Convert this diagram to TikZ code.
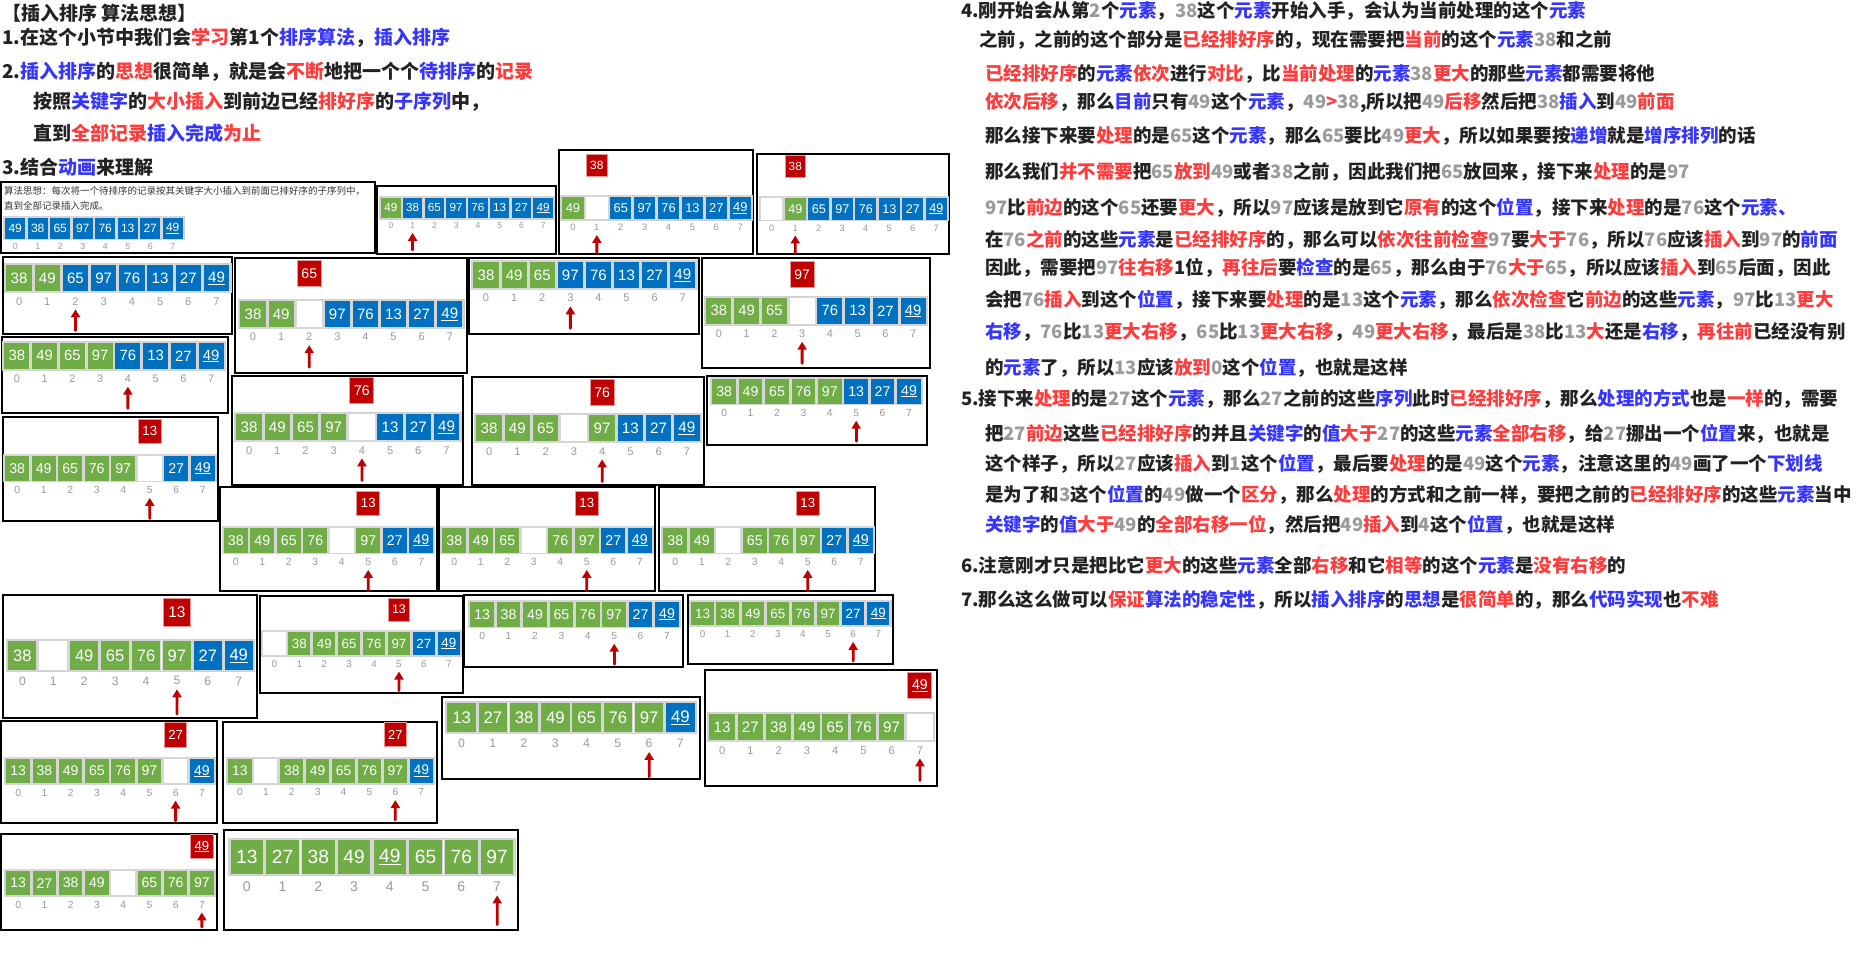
\documentclass[tikz,border=0pt]{standalone}
\usepackage{fontspec}
\usetikzlibrary{arrows.meta}
\newfontfamily\cjk{Noto Sans CJK SC}
\newfontfamily\numfont{Liberation Sans}
\definecolor{cg}{HTML}{70AD47}
\definecolor{cb}{HTML}{0070C0}
\definecolor{cr}{HTML}{C00000}
\definecolor{ce}{HTML}{FFFFFF}
\definecolor{tred}{HTML}{FF3B3B}
\definecolor{tblue}{HTML}{3535FF}
\definecolor{tgray}{HTML}{9A9A9A}
\definecolor{tblack}{HTML}{222222}
\newcommand{\hr}[1]{\textcolor{tred}{#1}}
\newcommand{\hb}[1]{\textcolor{tblue}{#1}}
\newcommand{\hg}[1]{\textcolor{tgray}{#1}}
\tikzset{
  panel/.style={draw=black,line width=1.3pt},
  cell/.style={fill=#1,draw=black!16,line width=1.4pt,minimum width=26.6pt,minimum height=27.6pt,
    inner sep=0,text=white,font=\numfont\fontsize{15}{15}\selectfont},
  idx/.style={text=black!40,inner sep=0,font=\numfont\fontsize{11}{11}\selectfont},
  redbox/.style={fill=cr,draw=cr!40,line width=1pt,minimum width=24pt,minimum height=26pt,
    inner sep=0,text=white,font=\numfont\fontsize{14}{14}\selectfont},
  uparr/.style={draw=cr,line width=2.8pt,-{Triangle[width=9pt,length=8pt]},shorten >=4pt},
  hd/.style={anchor=west,inner sep=0,text=tblack,font=\cjk\bfseries\fontsize{19}{19}\selectfont},
  rt/.style={anchor=west,inner sep=0,text=tblack,font=\cjk\bfseries\fontsize{18.5}{18.5}\selectfont},
  note/.style={anchor=west,inner sep=0,text=black!80,font=\cjk\fontsize{9.5}{9.5}\selectfont}
}
% one snapshot of the array: name, x, y, pitch, cells, arrow index, red value, red y, arrow tail
\newcommand{\snap}[9]{%
  \begin{scope}[shift={(#2,#3)},scale=#4/28,transform shape]
    \draw[black!18,line width=1pt] (-0.5,-0.5) rectangle (224.5,28.5);
    \foreach \ck/\cv [count=\i from 0] in {#5}
      {\node[cell=\ck] (#1-\i) at (28*\i+14,14) {\cv};
       \node[idx] (#1-n\i) at (28*\i+14,37) {\i};}
    \ifnum#6>-1
      \coordinate (#1-t) at (28*#6+14,#9);
      \draw[uparr] (#1-t) -- (#1-n#6);
    \fi
    \def\snapred{#7}%
    \ifx\snapred\empty\else
      \node[redbox] (#1-r) at (28*#6+14,#8) {#7};
    \fi
  \end{scope}}

\begin{document}
\begin{tikzpicture}[x=1pt,y=-1pt,line cap=round]
\useasboundingbox (0,0) rectangle (1860,953);

% left heading
\node[hd] (h0) at (2,13) {【插入排序 算法思想】};
\node[hd] (h1) at (2,38) {1.在这个小节中我们会\hr{学习}第1个\hb{排序算法}，\hb{插入排序}};
\node[hd] (h2) at (2,72) {2.\hb{插入排序}的\hr{思想}很简单，就是会\hr{不断}地把一个个\hb{待排序}的\hr{记录}};
\node[hd] (h3) at (33,102) {按照\hb{关键字}的\hr{大小插入}到前边已经\hr{排好序}的\hb{子序列}中，};
\node[hd] (h4) at (33,133) {直到\hr{全部记录}\hb{插入完成}\hr{为止}};
\node[hd] (h5) at (2,167) {3.结合\hb{动画}来理解};

% snapshots
\draw[panel] (1,182) rectangle (375,253);
\node[note] (A-l1) at (4,191) {算法思想：每次将一个待排序的记录按其关键字大小插入到前面已排好序的子序列中，};
\node[note] (A-l2) at (4,206) {直到全部记录插入完成。};
\snap{A}{4}{217}{22.5}{cb/49,cb/38,cb/65,cb/97,cb/76,cb/13,cb/27,cb/\underline{49}}{-1}{}{0}{67}
\draw[panel] (377,186) rectangle (556,254);
\snap{B}{380}{197}{21.75}{cg/49,cb/38,cb/65,cb/97,cb/76,cb/13,cb/27,cb/\underline{49}}{1}{}{0}{68}
\draw[panel] (559,150) rectangle (753,254);
\snap{C}{561}{196}{23.9}{cg/49,ce/{},cb/65,cb/97,cb/76,cb/13,cb/27,cb/\underline{49}}{1}{38}{-36}{67}
\draw[panel] (757,154) rectangle (949,254);
\snap{D}{760}{197}{23.5}{ce/{},cg/49,cb/65,cb/97,cb/76,cb/13,cb/27,cb/\underline{49}}{1}{38}{-36}{67}

\draw[panel] (3,257) rectangle (232,334);
\snap{E}{5}{264}{28.2}{cg/38,cg/49,cb/65,cb/97,cb/76,cb/13,cb/27,cb/\underline{49}}{2}{}{0}{66}
\draw[panel] (235,258) rectangle (467,373);
\snap{F}{239}{300}{28.1}{cg/38,cg/49,ce/{},cb/97,cb/76,cb/13,cb/27,cb/\underline{49}}{2}{65}{-26}{67}
\draw[panel] (469,258) rectangle (699,334);
\snap{G}{472}{261}{28.1}{cg/38,cg/49,cg/65,cb/97,cb/76,cb/13,cb/27,cb/\underline{49}}{3}{}{0}{67}
\draw[panel] (702,258) rectangle (930,368);
\snap{H}{705}{297}{27.75}{cg/38,cg/49,cg/65,ce/{},cb/76,cb/13,cb/27,cb/\underline{49}}{3}{97}{-22.5}{67}

\draw[panel] (2,337) rectangle (228,413);
\snap{I}{3}{342}{27.75}{cg/38,cg/49,cg/65,cg/97,cb/76,cb/13,cb/27,cb/\underline{49}}{4}{}{0}{67}
\draw[panel] (232,376) rectangle (463,485);
\snap{J}{235}{413}{28.2}{cg/38,cg/49,cg/65,cg/97,ce/{},cb/13,cb/27,cb/\underline{49}}{4}{76}{-22}{67}
\draw[panel] (472,377) rectangle (704,485);
\snap{K}{475}{414}{28.25}{cg/38,cg/49,cg/65,ce/{},cg/97,cb/13,cb/27,cb/\underline{49}}{4}{76}{-21}{67}
\draw[panel] (707,376) rectangle (927,445);
\snap{L}{711}{378}{26.4}{cg/38,cg/49,cg/65,cg/76,cg/97,cb/13,cb/27,cb/\underline{49}}{5}{}{0}{67}
\draw[panel] (3,417) rectangle (218,521);
\snap{M}{4}{455}{26.5}{cg/38,cg/49,cg/65,cg/76,cg/97,ce/{},cb/27,cb/\underline{49}}{5}{13}{-25}{67}

\draw[panel] (220,487) rectangle (437,591);
\snap{N}{222.5}{527}{26.5}{cg/38,cg/49,cg/65,cg/76,ce/{},cg/97,cb/27,cb/\underline{49}}{5}{13}{-25}{67}
\draw[panel] (439,487) rectangle (655,591);
\snap{O}{441}{527}{26.5}{cg/38,cg/49,cg/65,ce/{},cg/76,cg/97,cb/27,cb/\underline{49}}{5}{13}{-25}{67}
\draw[panel] (659,487) rectangle (875,591);
\snap{P}{662}{527}{26.5}{cg/38,cg/49,ce/{},cg/65,cg/76,cg/97,cb/27,cb/\underline{49}}{5}{13}{-25}{67}

\draw[panel] (3,595) rectangle (257,718);
\snap{Q}{7}{640}{30.9}{cg/38,ce/{},cg/49,cg/65,cg/76,cg/97,cb/27,cb/\underline{49}}{5}{13}{-25}{67}
\draw[panel] (260,596) rectangle (463,693);
\snap{R}{262}{631}{24.9}{ce/{},cg/38,cg/49,cg/65,cg/76,cg/97,cb/27,cb/\underline{49}}{5}{13}{-24}{67}
\draw[panel] (464,595) rectangle (683,667);
\snap{S}{469}{601}{26.4}{cg/13,cg/38,cg/49,cg/65,cg/76,cg/97,cb/27,cb/\underline{49}}{5}{}{0}{67}
\draw[panel] (688,595) rectangle (893,664);
\snap{T}{690}{601}{25.1}{cg/13,cg/38,cg/49,cg/65,cg/76,cg/97,cb/27,cb/\underline{49}}{6}{}{0}{67}

\draw[panel] (442,697) rectangle (700,779);
\snap{U}{446}{702}{31.25}{cg/13,cg/27,cg/38,cg/49,cg/65,cg/76,cg/97,cb/\underline{49}}{6}{}{0}{67}
\draw[panel] (705,670) rectangle (937,786);
\snap{V}{708}{713}{28.25}{cg/13,cg/27,cg/38,cg/49,cg/65,cg/76,cg/97,ce/{}}{7}{\underline{49}}{-27}{67}
\draw[panel] (1,721) rectangle (217,823);
\snap{W}{5}{758}{26.25}{cg/13,cg/38,cg/49,cg/65,cg/76,cg/97,ce/{},cb/\underline{49}}{6}{27}{-24.5}{67}
\draw[panel] (223,722) rectangle (437,823);
\snap{X}{227}{758}{25.9}{cg/13,ce/{},cg/38,cg/49,cg/65,cg/76,cg/97,cb/\underline{49}}{6}{27}{-25}{67}

\draw[panel] (1,834) rectangle (217,930);
\snap{Y}{5}{870}{26.25}{cg/13,cg/27,cg/38,cg/49,ce/{},cg/65,cg/76,cg/97}{7}{\underline{49}}{-25}{61}
\draw[panel] (224,830) rectangle (518,930);
\snap{Z}{229}{839}{35.75}{cg/13,cg/27,cg/38,cg/49,cg/\underline{49},cg/65,cg/76,cg/97}{7}{}{0}{67}

% right column
\node[rt] (t1) at (961,11) {4.刚开始会从第\hg{2}个\hb{元素}，\hg{38}这个\hb{元素}开始入手，会认为当前处理的这个\hb{元素}};
\node[rt] (t2) at (979,40) {之前，之前的这个部分是\hr{已经排好序}的，现在需要把\hr{当前}的这个\hb{元素}\hg{38}和之前};
\node[rt] (t3) at (985,74) {\hr{已经排好序}的\hb{元素}\hr{依次}进行\hr{对比}，比\hr{当前处理}的\hb{元素}\hg{38}\hr{更大}的那些\hb{元素}都需要将他};
\node[rt] (t4) at (985,103) {\hr{依次后移}，那么\hb{目前}只有\hg{49}这个\hb{元素}，\hg{49}\hr{>}\hg{38},所以把\hg{49}\hr{后移}然后把\hg{38}\hb{插入}到\hg{49}\hr{前面}};
\node[rt] (t5) at (985,136) {那么接下来要\hr{处理}的是\hg{65}这个\hb{元素}，那么\hg{65}要比\hg{49}\hr{更大}，所以如果要按\hb{递增}就是\hb{增序排列}的话};
\node[rt] (t6) at (985,172) {那么我们\hr{并不需要}把\hg{65}\hr{放到}\hg{49}或者\hg{38}之前，因此我们把\hg{65}放回来，接下来\hr{处理}的是\hg{97}};
\node[rt] (t7) at (985,208) {\hg{97}比\hr{前边}的这个\hg{65}还要\hr{更大}，所以\hg{97}应该是放到它\hr{原有}的这个\hb{位置}，接下来\hr{处理}的是\hg{76}这个\hb{元素、}};
\node[rt] (t8) at (985,240) {在\hg{76}\hr{之前}的这些\hb{元素}是\hr{已经排好序}的，那么可以\hr{依次往前检查}\hg{97}要\hr{大于}\hg{76}，所以\hg{76}应该\hr{插入}到\hg{97}的\hb{前面}};
\node[rt] (t9) at (985,268) {因此，需要把\hg{97}\hr{往右移}1位，\hr{再往后}要\hb{检查}的是\hg{65}，那么由于\hg{76}\hr{大于}\hg{65}，所以应该\hr{插入}到\hg{65}后面，因此};
\node[rt] (t10) at (985,300) {会把\hg{76}\hr{插入}到这个\hb{位置}，接下来要\hr{处理}的是\hg{13}这个\hb{元素}，那么\hr{依次检查}它\hr{前边}的这些\hb{元素}，\hg{97}比\hg{13}\hr{更大}};
\node[rt] (t11) at (985,332) {\hb{右移}，\hg{76}比\hg{13}\hr{更大右移}，\hg{65}比\hg{13}\hr{更大右移}，\hg{49}\hr{更大右移}，最后是\hg{38}比\hg{13}\hr{大}还是\hb{右移}，\hr{再往前}已经没有别};
\node[rt] (t12) at (985,368) {的\hb{元素}了，所以\hg{13}应该\hr{放到}\hg{0}这个\hb{位置}，也就是这样};
\node[rt] (t13) at (961,399) {5.接下来\hr{处理}的是\hg{27}这个\hb{元素}，那么\hg{27}之前的这些\hb{序列}此时\hr{已经排好序}，那么\hb{处理的方式}也是\hr{一样}的，需要};
\node[rt] (t14) at (985,434) {把\hg{27}\hr{前边}这些\hr{已经排好序}的并且\hb{关键字}的\hb{值}\hr{大于}\hg{27}的这些\hb{元素}\hr{全部右移}，给\hg{27}挪出一个\hb{位置}来，也就是};
\node[rt] (t15) at (985,464) {这个样子，所以\hg{27}应该\hr{插入}到\hg{1}这个\hb{位置}，最后要\hr{处理}的是\hg{49}这个\hb{元素}，注意这里的\hg{49}画了一个\hb{下划线}};
\node[rt] (t16) at (985,495) {是为了和\hg{3}这个\hb{位置}的\hg{49}做一个\hr{区分}，那么\hr{处理}的方式和之前一样，要把之前的\hr{已经排好序}的这些\hb{元素}当中};
\node[rt] (t17) at (985,525) {\hb{关键字}的\hb{值}\hr{大于}\hg{49}的\hr{全部右移一位}，然后把\hg{49}\hr{插入}到\hg{4}这个\hb{位置}，也就是这样};
\node[rt] (t18) at (961,565) {6.注意刚才只是把比它\hr{更大}的这些\hb{元素}全部\hr{右移}和它\hr{相等}的这个\hb{元素}是\hr{没有右移}的};
\node[rt] (t19) at (961,600) {7.那么这么做可以\hr{保证}\hb{算法的稳定性}，所以\hb{插入排序}的\hb{思想}是\hr{很简单}的，那么\hb{代码实现}也\hr{不难}};
\end{tikzpicture}
\end{document}
